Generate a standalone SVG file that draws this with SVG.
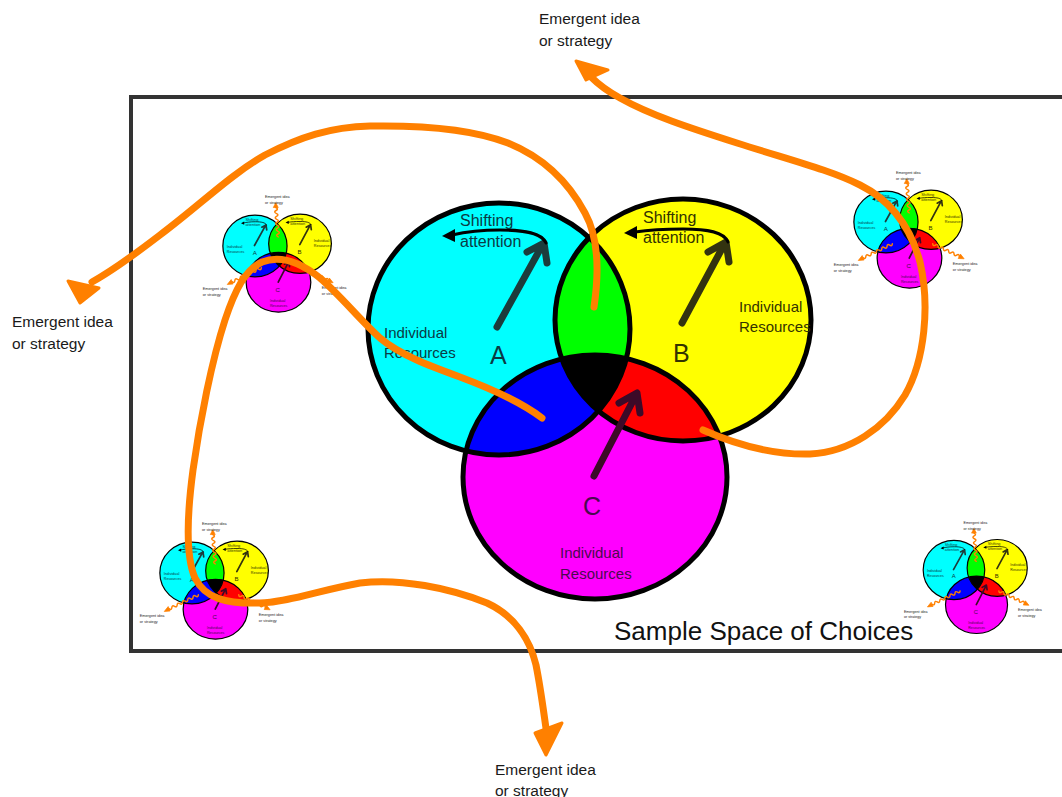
<svg xmlns="http://www.w3.org/2000/svg" xmlns:xlink="http://www.w3.org/1999/xlink" width="1062" height="797" viewBox="0 0 1062 797">
<style>
.t{font-family:"Liberation Sans",Arial,sans-serif}
.em{font-size:15.5px;fill:#1a1a1a}
.sh{font-size:16px}
.ir{font-size:15px}
.big{font-size:25px}
.ta{fill:#0b3a44}
.tb{fill:#333300}
.tc{fill:#4a0a4e}
.out{fill:none;stroke:#000;stroke-width:5}
.or{fill:none;stroke:#FF8000;stroke-width:7;stroke-linecap:round;stroke-linejoin:round}
.orw{fill:none;stroke:#FF8000;stroke-width:6;stroke-linecap:round;stroke-linejoin:round}
.oh{fill:#FF8000;stroke:#FF8000;stroke-width:3;stroke-linejoin:round}
.arr{fill:none;stroke-width:7;stroke-linecap:round;stroke-linejoin:round}
.sa{fill:none;stroke:#000;stroke-width:3;stroke-linecap:round}
</style>
<defs>
<clipPath id="clipA"><ellipse cx="499" cy="329" rx="131" ry="126"/></clipPath>
<clipPath id="clipB"><ellipse cx="683" cy="320" rx="128" ry="121"/></clipPath>
<g id="vennShapes">
 <ellipse cx="499" cy="329" rx="131" ry="126" fill="#00FFFF"/>
 <ellipse cx="683" cy="320" rx="128" ry="121" fill="#FFFF00"/>
 <ellipse cx="595" cy="477" rx="132" ry="122" fill="#FF00FF"/>
 <ellipse cx="683" cy="320" rx="128" ry="121" fill="#00FF00" clip-path="url(#clipA)"/>
 <ellipse cx="595" cy="477" rx="132" ry="122" fill="#0000FF" clip-path="url(#clipA)"/>
 <ellipse cx="595" cy="477" rx="132" ry="122" fill="#FF0000" clip-path="url(#clipB)"/>
 <g clip-path="url(#clipA)"><ellipse cx="595" cy="477" rx="132" ry="122" fill="#000" clip-path="url(#clipB)"/></g>
 <ellipse class="out" cx="499" cy="329" rx="131" ry="126"/>
 <ellipse class="out" cx="683" cy="320" rx="128" ry="121"/>
 <ellipse class="out" cx="595" cy="477" rx="132" ry="122"/>
 <path class="arr" stroke="#1c3c3c" d="M497,327 L543,244 M527,252 L544,243 L547,263"/>
 <path class="arr" stroke="#333310" d="M682,323 L725,243 M708,252 L726,242 L729,262"/>
 <path class="arr" stroke="#3c0a28" d="M594,476 L636,395 M619,403 L637,393 L640,413"/>
 <path class="sa" d="M546,243 C542,233 525,230 500,230 C480,230 465,232 452,235"/>
 <polygon points="442,236 455,229 455,242" fill="#000"/>
 <path class="sa" d="M728,242 C724,232 708,229 683,229 C663,229 648,230 635,232"/>
 <polygon points="624,233 637,226 637,239" fill="#000"/>
</g>
<g id="mini">
 <use href="#vennShapes"/>
 <text class="t sh ta" x="460" y="226">Shifting</text>
 <text class="t sh ta" x="460" y="247">attention</text>
 <text class="t ir ta" x="384" y="338">Individual</text>
 <text class="t ir ta" x="384" y="358">Resources</text>
 <text class="t big ta" x="490" y="364">A</text>
 <text class="t sh tb" x="643" y="223">Shifting</text>
 <text class="t sh tb" x="643" y="243">attention</text>
 <text class="t ir tb" x="739" y="312">Individual</text>
 <text class="t ir tb" x="739" y="332">Resources</text>
 <text class="t big tb" x="673" y="362">B</text>
 <text class="t big tc" x="583" y="515">C</text>
 <text class="t ir tc" x="560" y="558">Individual</text>
 <text class="t ir tc" x="560" y="579">Resources</text>
 <path class="orw" d="M594,292 q-12,-6 -1,-12 q12,-6 -1,-12 q-12,-6 -1,-12 q12,-6 -1,-12 q-12,-6 -1,-12 q12,-6 -1,-12 q-12,-6 -1,-12 q12,-6 -1,-12 q-12,-6 -1,-12 q12,-6 -1,-12"/>
 <polygon class="oh" points="584,152 574,172 594,172"/>
 <path class="orw" d="M525,418 q-1.1,11.6 -10.8,5.2 q-9.7,-6.4 -10.8,5.2 q-1.1,11.6 -10.8,5.2 q-9.7,-6.4 -10.8,5.2 q-1.1,11.6 -10.8,5.2 q-9.7,-6.4 -10.8,5.2 q-1.1,11.6 -10.8,5.2 q-9.7,-6.4 -10.8,5.2 q-1.1,11.6 -10.8,5.2 q-9.7,-6.4 -10.8,5.2 q-1.1,11.6 -10.8,5.2"/>
 <polygon class="oh" points="386,486 410,484 402,466"/>
 <path class="orw" d="M690,418 q1.15,11.6 10.85,5.13 q9.7,-6.5 10.85,5.13 q1.15,11.6 10.85,5.13 q9.7,-6.5 10.85,5.13 q1.15,11.6 10.85,5.13 q9.7,-6.5 10.85,5.13 q1.15,11.6 10.85,5.13 q9.7,-6.5 10.85,5.13 q1.15,11.6 10.85,5.13 q9.7,-6.5 10.85,5.13"/>
 <polygon class="oh" points="818,479 794,478 803,460"/>
 <text class="t em" x="540" y="135">Emergent idea</text>
 <text class="t em" x="540" y="159">or strategy</text>
 <text class="t em" x="286" y="510">Emergent idea</text>
 <text class="t em" x="286" y="534">or strategy</text>
 <text class="t em" x="772" y="503">Emergent idea</text>
 <text class="t em" x="772" y="527">or strategy</text>
</g>
</defs>
<rect width="1062" height="797" fill="#fff"/>
<rect id="sample-space" x="131" y="97" width="960" height="554" fill="none" stroke="#333" stroke-width="4"/>
<text class="t" x="614" y="640" font-size="26" fill="#111">Sample Space of Choices</text>

<g id="mini1"><use href="#mini" transform="translate(132.7,165.4) scale(0.245)"/></g>
<g id="mini2"><use href="#mini" transform="translate(763.7,141.4) scale(0.245)"/></g>
<g id="mini3"><use href="#mini" transform="translate(69.7,492.4) scale(0.245)"/></g>
<g id="mini4"><use href="#mini" transform="translate(836.7,492.7) scale(0.235)"/></g>

<g id="venn-main">
 <use href="#vennShapes"/>
 <text class="t sh ta" x="460" y="226">Shifting</text>
 <text class="t sh ta" x="460" y="247">attention</text>
 <text class="t ir ta" x="384" y="338">Individual</text>
 <text class="t ir ta" x="384" y="358">Resources</text>
 <text class="t big ta" x="490" y="364">A</text>
 <text class="t sh tb" x="643" y="223">Shifting</text>
 <text class="t sh tb" x="643" y="243">attention</text>
 <text class="t ir tb" x="739" y="312">Individual</text>
 <text class="t ir tb" x="739" y="332">Resources</text>
 <text class="t big tb" x="673" y="362">B</text>
 <text class="t big tc" x="583" y="515">C</text>
 <text class="t ir tc" x="560" y="558">Individual</text>
 <text class="t ir tc" x="560" y="579">Resources</text>
</g>

<g id="label-top"><text class="t em" x="539" y="24">Emergent idea</text><text class="t em" x="539" y="46">or strategy</text></g>
<g id="label-left"><text class="t em" x="12" y="327">Emergent idea</text><text class="t em" x="12" y="349">or strategy</text></g>
<g id="label-bottom"><text class="t em" x="495" y="775">Emergent idea</text><text class="t em" x="495" y="796">or strategy</text></g>

<g id="connectors">
 <path class="or" d="M594,307 C598,280 600,240 585,213 C570,185 545,158 508,143 C475,130 430,125 370,126 C330,127 300,137 265,155 C230,175 200,205 160,235 C130,258 110,272 92,282"/>
 <polygon class="oh" points="68,281 99,288 80,303"/>
 <path class="or" d="M703,430 C730,442 770,455 810,454 C850,452 885,428 905,395 C925,360 930,305 920,262 C910,225 890,200 860,185 C830,170 790,160 737,143 C690,128 650,115 620,98 C605,90 596,82 590,76"/>
 <polygon class="oh" points="576,61 608,70 586,80"/>
 <path class="or" d="M542,418 C525,405 500,392 460,377 C430,366 400,355 380,338 C360,320 340,295 320,278 C300,262 280,255 262,262 C245,270 235,290 225,320 C212,360 200,420 193,470 C187,515 185,555 195,578 C205,598 225,604 260,603 C290,602 320,590 360,583 C400,578 450,588 487,603 C515,616 530,640 536,665 C541,690 544,715 547,735"/>
 <polygon class="oh" points="535,733 562,723 546,755"/>
</g>
</svg>
